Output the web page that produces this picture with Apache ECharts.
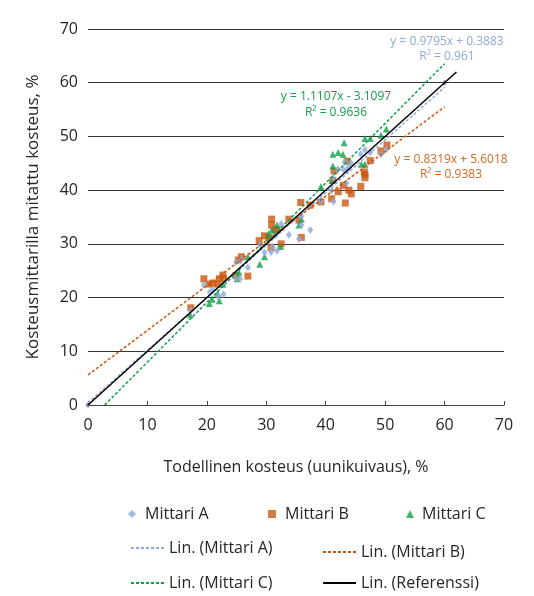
<!DOCTYPE html>
<html>
<head>
<meta charset="utf-8">
<script src="https://cdn.jsdelivr.net/npm/echarts@6/dist/echarts.min.js"></script>
<style>
  html, body { margin: 0; padding: 0; background: #fff; }
  #chart { width: 534px; height: 596px; }
</style>
</head>
<body>
<div id="chart"></div>
<script>
// Mittari A (diamonds): [todellinen, mitattu]
const mittariA = [
  [17.3, 17.6], [19.5, 22.4], [20.5, 21.0], [21.0, 21.4], [21.9, 20.2], [22.8, 20.6],
  [24.9, 26.6], [25.8, 27.1], [26.9, 25.6], [24.9, 23.5], [25.6, 23.5], [29.0, 29.8],
  [29.7, 28.4], [30.8, 28.5], [31.8, 28.7], [31.0, 29.5], [31.5, 31.6], [32.5, 33.7],
  [33.8, 31.7], [35.5, 30.9], [35.9, 33.5], [35.9, 35.1], [37.4, 32.6], [39.2, 38.0],
  [41.3, 37.9], [41.2, 42.3], [41.0, 40.0], [43.5, 41.3], [43.2, 45.2], [43.0, 43.8],
  [43.6, 43.8], [43.9, 44.4], [44.3, 45.0], [45.9, 46.7], [46.6, 47.5], [47.5, 47.1],
  [49.3, 46.7], [50.2, 47.6], [42.1, 43.9]
]
// Mittari B (squares)
const mittariB = [
  [17.3, 18.1], [19.5, 23.5], [20.4, 22.5], [21.0, 22.7], [21.8, 22.5], [22.1, 23.5],
  [22.7, 24.2], [22.8, 23.6], [24.9, 24.1], [25.3, 27.0], [25.8, 27.6], [26.9, 24.0],
  [28.8, 30.6], [29.7, 31.5], [30.4, 31.2], [30.9, 34.6], [30.9, 33.5], [31.5, 32.6],
  [31.8, 32.6], [30.8, 29.3], [32.5, 30.0], [33.8, 34.6], [35.5, 34.4], [35.9, 31.2],
  [35.8, 37.7], [37.4, 37.2], [39.2, 37.8], [41.0, 38.4], [41.4, 43.6], [41.2, 41.8],
  [42.1, 39.7], [43.0, 40.9], [43.3, 37.6], [43.9, 40.0], [44.3, 39.3], [43.6, 45.4],
  [45.9, 40.7], [46.6, 42.9], [46.6, 42.3], [46.5, 43.4], [47.5, 45.5], [49.3, 47.3],
  [50.3, 48.4]
]
// Mittari C (triangles)
const mittariC = [
  [17.2, 16.8], [20.4, 18.9], [20.9, 19.7], [22.1, 19.4], [21.8, 20.8], [22.7, 22.5],
  [25.4, 24.7], [26.9, 27.6], [28.9, 26.2], [29.7, 27.6], [30.4, 31.8], [30.9, 32.6],
  [31.8, 33.5], [32.4, 29.5], [35.5, 33.5], [35.9, 34.6], [39.2, 40.7], [41.2, 46.7],
  [42.1, 47.0], [42.9, 46.7], [43.1, 48.8], [41.2, 44.5], [41.1, 41.8], [46.0, 44.8],
  [46.6, 44.8], [46.6, 49.6], [47.5, 49.6], [49.3, 50.2], [50.2, 51.4], [25.1, 23.5]
]
// Referenssi points
const referenssi = [[0, 0], [60, 60]]

// trendlines as printed in the chart: [slope, intercept, xStart, xEnd]
const trendA = [0.9795, 0.3883, 0, 60]
const trendB = [0.8319, 5.6018, 0, 60]
const trendC = [1.1107, -3.1097, 2.8, 60]
const trendRef = [1, 0, 0, 62]

const axisTicks = [0, 10, 20, 30, 40, 50, 60, 70]

const colA = '#8fa9db'
const colB = '#c9570f'
const colC = '#12a04a'
const font = 'Open Sans'

function ends(t) {
  return [[t[2], t[0] * t[2] + t[1]], [t[3], t[0] * t[3] + t[1]]]
}

const chart = echarts.init(document.getElementById('chart'))

function legend(name, left, top, w, h, pad) {
  return {
    data: [name], left: left, top: top, itemWidth: w, itemHeight: h, padding: 0,
    textStyle: { fontFamily: font, fontSize: 16, color: '#262626', padding: [0, 0, 0, pad || 0] }
  }
}

function lineSeries(name, t, color, type, z) {
  return {
    name: name, type: 'line', data: ends(t), symbol: 'none', z: z,
    lineStyle: { color: color, width: 1.5, type: type },
    itemStyle: { color: color }
  }
}

function eqText(x, y, text, color) {
  return {
    type: 'text', x: x, y: y,
    style: { text: text, fill: color, font: '12px "Open Sans"', textAlign: 'center', textVerticalAlign: 'middle' }
  }
}

const option = {
  animation: false,
  backgroundColor: '#fff',
  grid: { left: 88, right: 30, top: 29, bottom: 191 },
  xAxis: {
    type: 'value', min: 0, max: 70, interval: 10,
    name: 'Todellinen kosteus (uunikuivaus), %', nameLocation: 'middle', nameGap: 54,
    nameTextStyle: { fontFamily: font, fontSize: 16, color: '#262626' },
    axisLine: { show: true, lineStyle: { color: '#404040', width: 1 } },
    axisTick: { show: true, inside: true, length: 4, lineStyle: { color: '#404040' } },
    axisLabel: { fontFamily: font, fontSize: 16, color: '#262626', margin: 12,
      formatter: v => axisTicks.includes(v) ? String(v) : '' },
    splitLine: { show: false }
  },
  yAxis: {
    type: 'value', min: 0, max: 70, interval: 10,
    name: 'Kosteusmittarilla mitattu kosteus, %', nameLocation: 'middle', nameGap: 46,
    nameTextStyle: { fontFamily: font, fontSize: 17, color: '#262626' },
    axisLine: { show: false },
    axisTick: { show: false },
    axisLabel: { fontFamily: font, fontSize: 16, color: '#262626', margin: 10,
      formatter: v => axisTicks.includes(v) ? String(v) : '' },
    splitLine: { show: true, lineStyle: { color: '#333', width: 1 } }
  },
  legend: [
    legend('Mittari A', 128, 506, 8, 8, 4),
    legend('Mittari B', 268, 506, 8, 8, 4),
    legend('Mittari C', 406, 506, 8, 8, 3),
    legend('Lin. (Mittari A)', 130, 540, 33, 2),
    legend('Lin. (Mittari B)', 322, 544, 33, 2),
    legend('Lin. (Mittari C)', 130, 575, 33, 2),
    legend('Lin. (Referenssi)', 322, 575, 33, 2)
  ],
  graphic: [
    eqText(447, 42, 'y = 0.9795x + 0.3883', colA),
    eqText(447, 57, 'R² = 0.961', colA),
    eqText(336, 97, 'y = 1.1107x - 3.1097', colC),
    eqText(336, 113, 'R² = 0.9636', colC),
    eqText(451, 160, 'y = 0.8319x + 5.6018', '#d06a26'),
    eqText(451, 175, 'R² = 0.9383', '#d06a26')
  ],
  series: [
    { name: 'Mittari A', type: 'scatter', data: mittariA, symbol: 'diamond', symbolSize: [6, 8], z: 3,
      itemStyle: { color: colA } },
    { name: 'Mittari B', type: 'scatter', data: mittariB, symbol: 'rect', symbolSize: 7, z: 2,
      itemStyle: { color: colB } },
    { name: 'Mittari C', type: 'scatter', data: mittariC, symbol: 'triangle', symbolSize: 7, z: 2,
      itemStyle: { color: colC } },
    { name: 'Referenssi', type: 'scatter', data: referenssi, symbol: 'diamond', symbolSize: [5, 6], z: 3,
      itemStyle: { color: '#7a5ca8' } },
    lineSeries('Lin. (Mittari A)', trendA, colA, [3, 2], 4),
    lineSeries('Lin. (Mittari B)', trendB, colB, [3, 2], 4),
    lineSeries('Lin. (Mittari C)', trendC, colC, [3, 2], 4),
    lineSeries('Lin. (Referenssi)', trendRef, '#000', 'solid', 5)
  ]
}

chart.setOption(option)
</script>
</body>
</html>
